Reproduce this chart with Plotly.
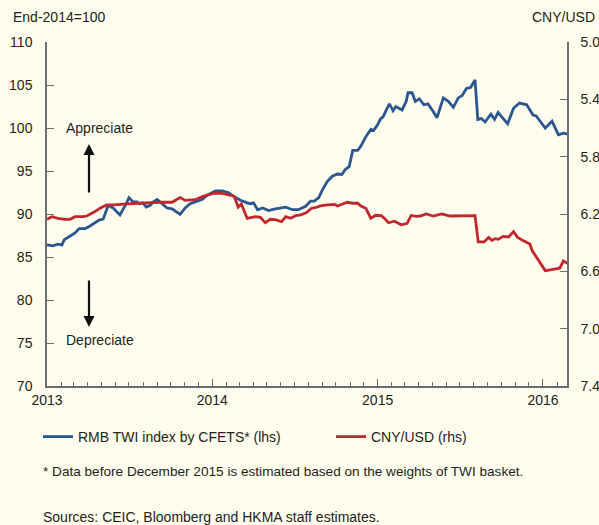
import plotly.graph_objects as go

# RMB TWI index by CFETS (lhs), End-2014=100
twi_dates = [
    "2013-01-01", "2013-01-14", "2013-01-25", "2013-02-03", "2013-02-08", "2013-02-21",
    "2013-03-04", "2013-03-13", "2013-03-26", "2013-04-06", "2013-04-17", "2013-04-26",
    "2013-05-05", "2013-05-16", "2013-05-27", "2013-06-11", "2013-06-25", "2013-07-01",
    "2013-07-10", "2013-07-19", "2013-07-24", "2013-08-01", "2013-08-08", "2013-08-17",
    "2013-08-23", "2013-09-01", "2013-09-12", "2013-09-23", "2013-10-04", "2013-10-18",
    "2013-10-22", "2013-11-02", "2013-11-13", "2013-11-29", "2013-12-10", "2013-12-21",
    "2014-01-08", "2014-01-23", "2014-02-05", "2014-02-16", "2014-03-04", "2014-03-19",
    "2014-03-26", "2014-04-02", "2014-04-11", "2014-04-22", "2014-05-05", "2014-05-20",
    "2014-06-12", "2014-06-27", "2014-07-10", "2014-07-26", "2014-08-06", "2014-08-14",
    "2014-08-24", "2014-09-01", "2014-09-12", "2014-09-23", "2014-10-04", "2014-10-14",
    "2014-10-22", "2014-10-30", "2014-11-07", "2014-11-18", "2014-11-25", "2014-12-06",
    "2014-12-17", "2014-12-23", "2014-12-31", "2015-01-08", "2015-01-13", "2015-01-21",
    "2015-01-27", "2015-02-04", "2015-02-10", "2015-02-24", "2015-03-05", "2015-03-09",
    "2015-03-18", "2015-03-25", "2015-04-03", "2015-04-13", "2015-04-22", "2015-05-04",
    "2015-05-12", "2015-05-26", "2015-06-06", "2015-06-17", "2015-06-28", "2015-07-07",
    "2015-07-16", "2015-07-25", "2015-08-04", "2015-08-10", "2015-08-18", "2015-08-26",
    "2015-09-08", "2015-09-16", "2015-09-24", "2015-10-02", "2015-10-15", "2015-10-28",
    "2015-11-10", "2015-11-26", "2015-12-10", "2015-12-17", "2016-01-06", "2016-01-21",
    "2016-02-04", "2016-02-15", "2016-02-24",
]
twi_values = [
    86.4, 86.3, 86.5, 86.4, 87.0, 87.4,
    87.8, 88.3, 88.3, 88.6, 89.0, 89.3,
    89.4, 91.0, 90.7, 89.9, 91.2, 91.9,
    91.4, 91.4, 91.2, 91.3, 90.8, 91.0,
    91.4, 91.7, 91.2, 90.7, 90.6, 90.1,
    89.95, 90.7, 91.2, 91.5, 91.7, 92.2,
    92.7, 92.7, 92.5, 92.1, 91.6, 91.3,
    91.2, 91.3, 90.5, 90.7, 90.4, 90.6,
    90.8, 90.5, 90.5, 90.9, 91.5, 91.5,
    91.9, 92.8, 93.8, 94.4, 94.65, 94.6,
    95.2, 95.5, 97.4, 97.4, 97.9, 99.0,
    99.85, 99.7, 100.3, 101.1, 101.3, 102.2,
    102.8, 102.0, 102.5, 102.1, 103.1, 104.1,
    104.1, 103.1, 103.4, 102.7, 102.8, 101.9,
    101.2, 103.5, 103.1, 102.4, 103.5, 103.8,
    104.6, 104.7, 105.6, 101.0, 101.1, 100.7,
    101.6, 101.0, 101.8, 101.3, 100.5, 102.3,
    102.9, 102.7, 101.5, 101.4, 100.0, 100.8,
    99.2, 99.4, 99.3,
]

# CNY/USD (rhs, inverted)
cny_dates = [
    "2013-01-01", "2013-01-12", "2013-01-25", "2013-02-09", "2013-02-21", "2013-03-04",
    "2013-03-22", "2013-03-30", "2013-04-13", "2013-04-28", "2013-05-13", "2013-05-28",
    "2013-06-27", "2013-07-26", "2013-08-17", "2013-09-08", "2013-10-04", "2013-10-15",
    "2013-10-22", "2013-11-02", "2013-11-24", "2013-12-10", "2014-01-03", "2014-01-23",
    "2014-02-05", "2014-02-16", "2014-02-20", "2014-02-27", "2014-03-06", "2014-03-19",
    "2014-04-06", "2014-04-17", "2014-04-28", "2014-05-09", "2014-05-20", "2014-06-03",
    "2014-06-12", "2014-06-23", "2014-07-04", "2014-07-15", "2014-07-28", "2014-08-08",
    "2014-08-19", "2014-08-28", "2014-09-12", "2014-09-23", "2014-09-28", "2014-10-04",
    "2014-10-15", "2014-10-26", "2014-11-07", "2014-11-18", "2014-11-25", "2014-12-06",
    "2014-12-17", "2014-12-28", "2015-01-09", "2015-01-16", "2015-01-25", "2015-02-07",
    "2015-02-22", "2015-03-07", "2015-03-16", "2015-03-27", "2015-04-05", "2015-04-18",
    "2015-05-04", "2015-05-22", "2015-06-10", "2015-07-09", "2015-08-04", "2015-08-11",
    "2015-08-24", "2015-09-03", "2015-09-10", "2015-09-17", "2015-09-24", "2015-10-05",
    "2015-10-17", "2015-10-28", "2015-11-06", "2015-11-19", "2015-12-03", "2015-12-08",
    "2016-01-06", "2016-01-17", "2016-02-07", "2016-02-15", "2016-02-24",
]
cny_values = [
    6.237, 6.219, 6.230, 6.237, 6.237, 6.219,
    6.219, 6.214, 6.190, 6.160, 6.137, 6.137,
    6.130, 6.125, 6.118, 6.118, 6.118, 6.097,
    6.085, 6.105, 6.100, 6.079, 6.056, 6.056,
    6.067, 6.074, 6.090, 6.153, 6.130, 6.230,
    6.219, 6.223, 6.261, 6.237, 6.240, 6.254,
    6.219, 6.230, 6.212, 6.207, 6.190, 6.160,
    6.153, 6.144, 6.137, 6.137, 6.133, 6.144,
    6.130, 6.118, 6.125, 6.125, 6.144, 6.160,
    6.230, 6.209, 6.212, 6.230, 6.261, 6.250,
    6.275, 6.265, 6.210, 6.216, 6.214, 6.200,
    6.214, 6.200, 6.214, 6.212, 6.212, 6.395,
    6.395, 6.364, 6.384, 6.372, 6.377, 6.356,
    6.360, 6.323, 6.363, 6.386, 6.409, 6.455,
    6.595, 6.590, 6.578, 6.528, 6.544,
]

left_ticks = [70, 75, 80, 85, 90, 95, 100, 105, 110]
right_ticks = [5.0, 5.4, 5.8, 6.2, 6.6, 7.0, 7.4]
year_ticks = ["2013-01-01", "2014-01-01", "2015-01-01", "2016-01-01"]
year_labels = ["2013", "2014", "2015", "2016"]

BG = "#FFFDED"
BLUE = "#2B5690"
RED = "#C1272D"
TXT = "#231F20"
AXC = "#6D6E71"
FONT = "Liberation Sans, Arial, sans-serif"
FS = 14

fig = go.Figure()
fig.add_trace(go.Scatter(x=twi_dates, y=twi_values, mode="lines",
                         line=dict(color=BLUE, width=2.8),
                         name="RMB TWI index by CFETS* (lhs)", yaxis="y",
                         legend="legend"))
fig.add_trace(go.Scatter(x=cny_dates, y=cny_values, mode="lines",
                         line=dict(color=RED, width=2.8),
                         name="CNY/USD (rhs)", yaxis="y2",
                         legend="legend2"))

W, H = 599, 525
L, R, T, B = 47, 32, 42, 139
pw, ph = W - L - R, H - T - B


def px(x):
    return (x - L) / pw


def py(y):
    return (H - B - y) / ph


leg_common = dict(orientation="h", xref="container", yref="container",
                  xanchor="left", yanchor="middle",
                  bgcolor="rgba(0,0,0,0)", font=dict(size=FS, color=TXT),
                  itemwidth=30)

fig.update_layout(
    width=W, height=H,
    margin=dict(l=L, r=R, t=T, b=B, pad=0, autoexpand=False),
    paper_bgcolor=BG, plot_bgcolor=BG,
    font=dict(family=FONT, size=FS, color=TXT),
    showlegend=True,
    legend=dict(x=38 / W, y=1 - 437 / H, **leg_common),
    legend2=dict(x=331 / W, y=1 - 437 / H, **leg_common),
    xaxis=dict(type="date", range=["2013-01-01", "2016-02-23"],
               tickvals=year_ticks, ticktext=year_labels,
               ticks="inside", ticklen=7, tickwidth=1, tickcolor=AXC,
               showline=True, linecolor=AXC, linewidth=1.5,
               showgrid=False, zeroline=False, automargin=False,
               tickfont=dict(size=FS, color=TXT),
               minor=dict(dtick="M1", tick0="2013-01-01", ticks="inside",
                          ticklen=4, tickwidth=1, tickcolor=AXC, showgrid=False)),
    yaxis=dict(range=[70, 110], tickvals=left_ticks,
               ticks="inside", ticklen=7, tickwidth=1, tickcolor=AXC,
               showline=True, linecolor=AXC, linewidth=1.5,
               showgrid=False, zeroline=False, automargin=False,
               tickfont=dict(size=FS, color=TXT), ticklabelstandoff=10),
    yaxis2=dict(range=[7.4, 5.0], tickvals=right_ticks, tickformat=".1f",
                overlaying="y", side="right", anchor="x",
                ticks="inside", ticklen=7, tickwidth=1, tickcolor=AXC,
                showline=True, linecolor=AXC, linewidth=1.5,
                showgrid=False, zeroline=False, automargin=False,
                tickfont=dict(size=FS, color=TXT), ticklabelstandoff=9),
)

ann = [
    dict(text="End-2014=100", xref="paper", yref="paper", x=px(11), y=py(17),
         xanchor="left", yanchor="middle", showarrow=False),
    dict(text="CNY/USD", xref="paper", yref="paper", x=px(597), y=py(17),
         xanchor="right", yanchor="middle", showarrow=False),
    dict(text="Appreciate", xref="paper", yref="paper", x=px(64), y=py(128),
         xanchor="left", yanchor="middle", showarrow=False),
    dict(text="Depreciate", xref="paper", yref="paper", x=px(64), y=py(340),
         xanchor="left", yanchor="middle", showarrow=False),
    dict(text="", xref="paper", yref="paper", x=px(89), y=py(144),
         ax=0, ay=50, showarrow=True, arrowhead=2, arrowsize=1, arrowwidth=2.2,
         arrowcolor="#111111"),
    dict(text="", xref="paper", yref="paper", x=px(89), y=py(327),
         ax=0, ay=-48, showarrow=True, arrowhead=2, arrowsize=1, arrowwidth=2.2,
         arrowcolor="#111111"),
    dict(text="* Data before December 2015 is estimated based on the weights of TWI basket.",
         xref="paper", yref="paper", x=px(41), y=py(471), font=dict(size=13.6),
         xanchor="left", yanchor="middle", showarrow=False),
    dict(text="Sources: CEIC, Bloomberg and HKMA staff estimates.",
         xref="paper", yref="paper", x=px(41), y=py(517),
         xanchor="left", yanchor="middle", showarrow=False),
]
fig.update_layout(annotations=ann)

fig.write_html(
    "out.html",
    config={"displayModeBar": False},
    post_script="document.body.style.margin='0';"
                "document.body.style.background='" + BG + "';"
                "document.body.style.overflow='hidden';",
)
